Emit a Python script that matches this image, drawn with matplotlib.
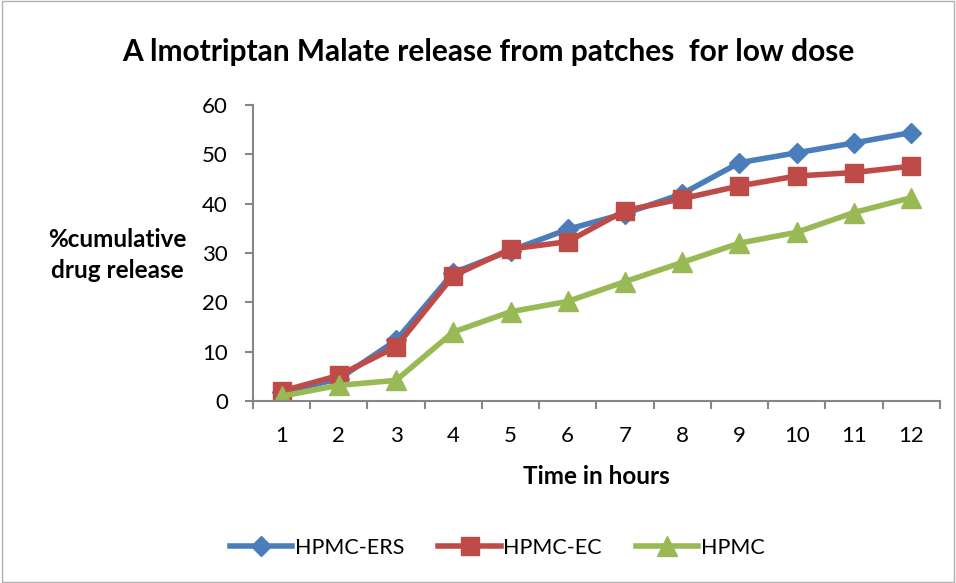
import matplotlib.pyplot as plt
import numpy as np

plt.rcParams['font.family'] = ['Lato', 'DejaVu Sans']

hours = [1, 2, 3, 4, 5, 6, 7, 8, 9, 10, 11, 12]
hpmc_ers = [1.8, 4.5, 12.3, 26.0, 30.5, 34.8, 38.0, 42.0, 48.3, 50.3, 52.3, 54.4]
hpmc_ec = [2.0, 5.2, 11.0, 25.4, 30.8, 32.3, 38.6, 41.0, 43.6, 45.6, 46.3, 47.6]
hpmc = [1.0, 3.2, 4.2, 14.0, 18.1, 20.2, 24.2, 28.1, 32.0, 34.2, 38.2, 41.2]

fig = plt.figure(figsize=(9.56, 5.83), dpi=100)
ax = fig.add_axes([0.2646, 0.312, 0.7184, 0.508])

ax.plot(hours, hpmc_ers, color='#4a7ebb', lw=4, marker='D', ms=10, label='HPMC-ERS')
ax.plot(hours, hpmc_ec, color='#be4b48', lw=4, marker='s', ms=13, label='HPMC-EC')
ax.plot(hours, hpmc, color='#98b954', lw=4, marker='^', ms=14, label='HPMC')

ax.set_xlim(0.5, 12.5)
ax.set_ylim(0, 60)
ax.set_yticks(range(0, 61, 10))
ax.set_xticks(hours)
ax.set_xticks(np.arange(0.5, 13, 1), minor=True)
ax.tick_params(axis='x', which='major', length=0, pad=18, labelsize=16)
ax.tick_params(axis='x', which='minor', length=6, width=1.5, color='#868686', direction='out')
ax.tick_params(axis='y', length=6, width=1.5, color='#868686', labelsize=16, pad=12)
for s in ['top', 'right']:
    ax.spines[s].set_visible(False)
for s in ['left', 'bottom']:
    ax.spines[s].set_color('#868686')
    ax.spines[s].set_linewidth(1.5)

fig.text(0.511, 0.911, 'A lmotriptan Malate release from patches  for low dose',
         ha='center', va='center', fontsize=21.5, fontweight='bold')
fig.text(0.123, 0.5626, '%cumulative\ndrug release', ha='center', va='center',
         fontsize=17.5, fontweight='bold', linespacing=1.4)
fig.text(0.624, 0.1835, 'Time in hours', ha='center', va='center',
         fontsize=17.5, fontweight='bold')

fig.legend(loc='center', bbox_to_anchor=(0.52, 0.06), ncol=3, frameon=False,
           fontsize=15.5, handlelength=2.9, columnspacing=1.6, handletextpad=0.1)

fig.patches.append(plt.Rectangle((0.002, 0.002), 0.996, 0.996, transform=fig.transFigure,
                                 fill=False, edgecolor='#b0b0b0', lw=1))

fig.savefig('out.png', dpi=100)
